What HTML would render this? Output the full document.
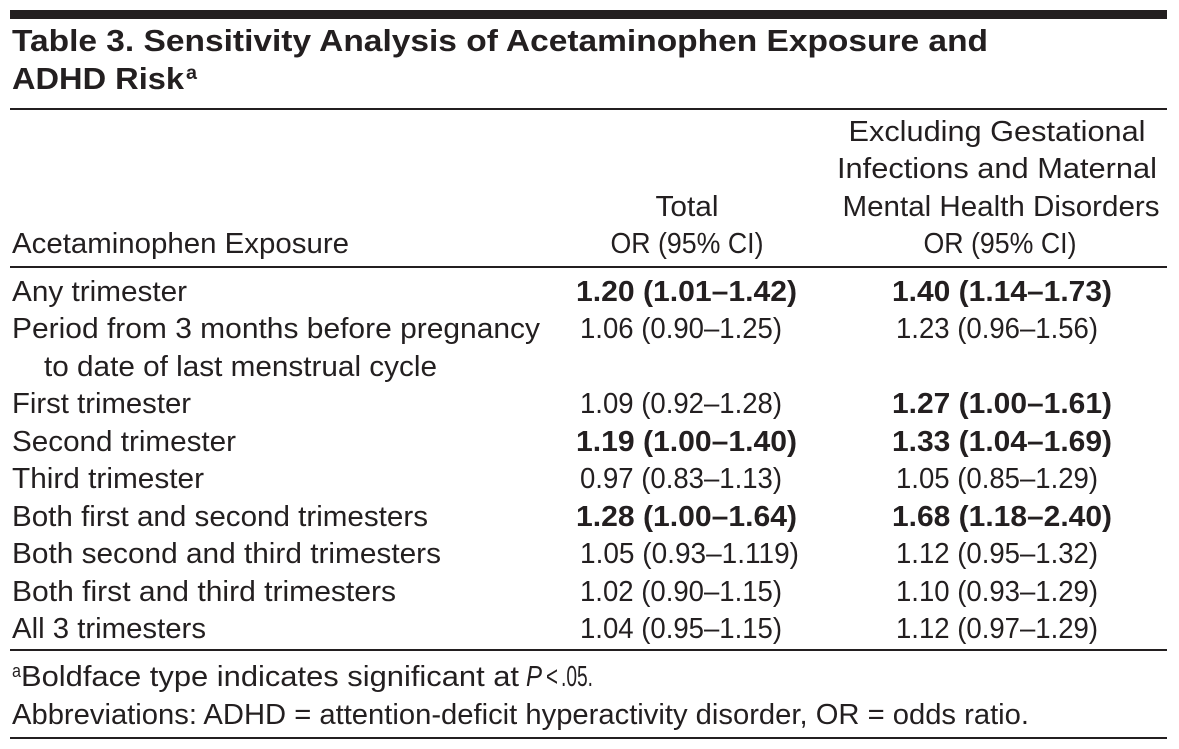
<!DOCTYPE html>
<html>
<head>
<meta charset="utf-8">
<style>
  html, body { margin: 0; padding: 0; background: #ffffff; }
  body { width: 1179px; height: 749px; overflow: hidden; }
  svg { display: block; }
  text { font-family: "Liberation Sans", "DejaVu Sans", sans-serif; fill: #231f20; font-size: 29px; }
  .b { font-weight: bold; }
  .t { font-weight: bold; font-size: 31px; }
</style>
</head>
<body>
<svg width="1179" height="749" viewBox="0 0 1179 749" xmlns="http://www.w3.org/2000/svg">
  <rect x="0" y="0" width="1179" height="749" fill="#ffffff"/>

  <!-- Top thick rule -->
  <rect x="10" y="10" width="1157" height="9" fill="#231f20"/>

  <!-- Title -->
  <text class="t" x="12" y="51" textLength="976" lengthAdjust="spacingAndGlyphs">Table 3. Sensitivity Analysis of Acetaminophen Exposure and</text>
  <text class="t" x="12" y="89" textLength="172" lengthAdjust="spacingAndGlyphs">ADHD Risk</text>
  <text class="b" x="186" y="79" style="font-size:19px" textLength="11" lengthAdjust="spacingAndGlyphs">a</text>

  <!-- Rule under title -->
  <rect x="10" y="108" width="1157" height="2" fill="#231f20"/>

  <!-- Header -->
  <text x="997" y="141" text-anchor="middle" textLength="297" lengthAdjust="spacingAndGlyphs">Excluding Gestational</text>
  <text x="997" y="178" text-anchor="middle" textLength="320" lengthAdjust="spacingAndGlyphs">Infections and Maternal</text>
  <text x="687" y="216" text-anchor="middle" textLength="63" lengthAdjust="spacingAndGlyphs">Total</text>
  <text x="1001" y="216" text-anchor="middle" textLength="317" lengthAdjust="spacingAndGlyphs">Mental Health Disorders</text>
  <text x="12" y="253" textLength="337" lengthAdjust="spacingAndGlyphs">Acetaminophen Exposure</text>
  <text x="687" y="253" text-anchor="middle" textLength="153" lengthAdjust="spacingAndGlyphs">OR (95% CI)</text>
  <text x="1000" y="253" text-anchor="middle" textLength="153" lengthAdjust="spacingAndGlyphs">OR (95% CI)</text>

  <!-- Rule under header -->
  <rect x="10" y="266" width="1157" height="2" fill="#231f20"/>

  <!-- Row 1 -->
  <text x="12" y="301" textLength="175" lengthAdjust="spacingAndGlyphs">Any trimester</text>
  <text class="b" x="576" y="301" textLength="221" lengthAdjust="spacingAndGlyphs">1.20 (1.01–1.42)</text>
  <text class="b" x="892" y="301" textLength="220" lengthAdjust="spacingAndGlyphs">1.40 (1.14–1.73)</text>

  <!-- Row 2 -->
  <text x="12" y="338" textLength="528" lengthAdjust="spacingAndGlyphs">Period from 3 months before pregnancy</text>
  <text x="580" y="338" textLength="202" lengthAdjust="spacingAndGlyphs">1.06 (0.90–1.25)</text>
  <text x="896" y="338" textLength="202" lengthAdjust="spacingAndGlyphs">1.23 (0.96–1.56)</text>
  <text x="44" y="376" textLength="393" lengthAdjust="spacingAndGlyphs">to date of last menstrual cycle</text>

  <!-- Row 3 -->
  <text x="12" y="413" textLength="179" lengthAdjust="spacingAndGlyphs">First trimester</text>
  <text x="580" y="413" textLength="202" lengthAdjust="spacingAndGlyphs">1.09 (0.92–1.28)</text>
  <text class="b" x="892" y="413" textLength="220" lengthAdjust="spacingAndGlyphs">1.27 (1.00–1.61)</text>

  <!-- Row 4 -->
  <text x="12" y="451" textLength="224" lengthAdjust="spacingAndGlyphs">Second trimester</text>
  <text class="b" x="576" y="451" textLength="221" lengthAdjust="spacingAndGlyphs">1.19 (1.00–1.40)</text>
  <text class="b" x="892" y="451" textLength="220" lengthAdjust="spacingAndGlyphs">1.33 (1.04–1.69)</text>

  <!-- Row 5 -->
  <text x="12" y="488" textLength="192" lengthAdjust="spacingAndGlyphs">Third trimester</text>
  <text x="580" y="488" textLength="202" lengthAdjust="spacingAndGlyphs">0.97 (0.83–1.13)</text>
  <text x="896" y="488" textLength="202" lengthAdjust="spacingAndGlyphs">1.05 (0.85–1.29)</text>

  <!-- Row 6 -->
  <text x="12" y="526" textLength="416" lengthAdjust="spacingAndGlyphs">Both first and second trimesters</text>
  <text class="b" x="576" y="526" textLength="221" lengthAdjust="spacingAndGlyphs">1.28 (1.00–1.64)</text>
  <text class="b" x="892" y="526" textLength="220" lengthAdjust="spacingAndGlyphs">1.68 (1.18–2.40)</text>

  <!-- Row 7 -->
  <text x="12" y="563" textLength="429" lengthAdjust="spacingAndGlyphs">Both second and third trimesters</text>
  <text x="580" y="563" textLength="219" lengthAdjust="spacingAndGlyphs">1.05 (0.93–1.119)</text>
  <text x="896" y="563" textLength="202" lengthAdjust="spacingAndGlyphs">1.12 (0.95–1.32)</text>

  <!-- Row 8 -->
  <text x="12" y="601" textLength="384" lengthAdjust="spacingAndGlyphs">Both first and third trimesters</text>
  <text x="580" y="601" textLength="202" lengthAdjust="spacingAndGlyphs">1.02 (0.90–1.15)</text>
  <text x="896" y="601" textLength="202" lengthAdjust="spacingAndGlyphs">1.10 (0.93–1.29)</text>

  <!-- Row 9 -->
  <text x="12" y="638" textLength="194" lengthAdjust="spacingAndGlyphs">All 3 trimesters</text>
  <text x="580" y="638" textLength="202" lengthAdjust="spacingAndGlyphs">1.04 (0.95–1.15)</text>
  <text x="896" y="638" textLength="202" lengthAdjust="spacingAndGlyphs">1.12 (0.97–1.29)</text>

  <!-- Rule under table body -->
  <rect x="10" y="649" width="1157" height="2" fill="#231f20"/>

  <!-- Footnotes -->
  <text x="12" y="677" style="font-size:18px" textLength="9" lengthAdjust="spacingAndGlyphs">a</text>
  <text x="21" y="686" textLength="498" lengthAdjust="spacingAndGlyphs">Boldface type indicates significant at</text>
  <text x="526" y="686" style="font-style:italic" textLength="16" lengthAdjust="spacingAndGlyphs">P</text>
  <text x="546" y="686" textLength="12" lengthAdjust="spacingAndGlyphs">&lt;</text>
  <text x="561" y="686" textLength="32" lengthAdjust="spacingAndGlyphs">.05.</text>
  <text x="12" y="724" textLength="1017" lengthAdjust="spacingAndGlyphs">Abbreviations: ADHD = attention-deficit hyperactivity disorder, OR = odds ratio.</text>

  <!-- Bottom rule -->
  <rect x="10" y="737" width="1157" height="2" fill="#231f20"/>
</svg>
</body>
</html>
